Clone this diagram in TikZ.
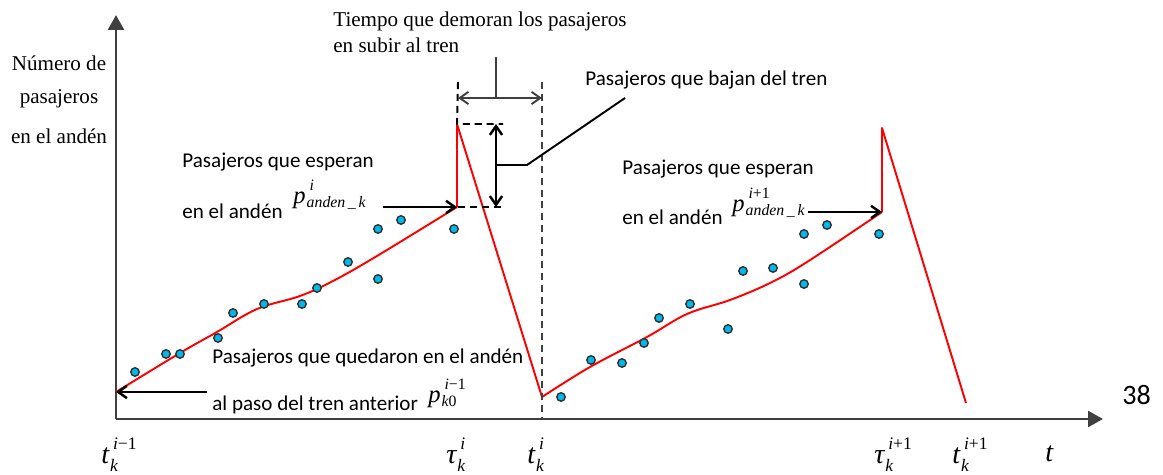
\documentclass[tikz,border=0pt]{standalone}
\usepackage{fontspec}
\setmainfont{Liberation Serif}
\newfontfamily\calib{Carlito}
\usetikzlibrary{arrows.meta}
\definecolor{axgray}{RGB}{64,64,64}
\definecolor{dotcyan}{RGB}{0,186,238}
\definecolor{dotedge}{RGB}{50,50,50}
% #1 base size, #2 script size, #3 base, #4 sup, #5 sub, #6 raise, #7 lower
\newcommand\mlb[7]{{\fontsize{#1}{#1}\selectfont\itshape #3\kern0.6pt\rlap{\kern1.6pt\raisebox{#6}{\fontsize{#2}{#2}\selectfont #4}}\raisebox{-#7}{\fontsize{#2}{#2}\selectfont #5}}}
\tikzset{
  ax/.style={draw=axgray, line width=1.6pt, -{Triangle[length=8.5pt,width=9pt]}},
  redl/.style={draw=red, line width=1.1pt, line join=round},
  dot/.style={circle, fill=dotcyan, draw=dotedge, line width=0.8pt, minimum size=4.8pt, inner sep=0pt},
  sans/.style={font=\calib\fontsize{12}{14}\selectfont, inner sep=0pt, anchor=west},
  ser/.style={font=\fontsize{12}{14}\selectfont, inner sep=0pt},
  barb/.style={line width=1.4pt, -{Straight Barb[length=5pt,width=7pt]}},
  dbarb/.style={line width=1.4pt, {Straight Barb[length=5pt,width=7pt]}-{Straight Barb[length=5pt,width=7pt]}},
  dash1/.style={line width=1.1pt, dash pattern=on 4pt off 2.8pt},
  mlab/.style={inner sep=0pt, anchor=base west}
}
\begin{document}
\begin{tikzpicture}[x=0.02cm,y=-0.02cm]
\useasboundingbox (0,0) rectangle (1163,475);
% axes
\coordinate (o) at (116,419);
\coordinate (ytop) at (116,15);
\coordinate (xend) at (1103,419);
\draw[ax] (o) -- (ytop);
\draw[ax] (o) -- (xend);
% y label
\node[ser] (yl1) at (59,63) {Número de};
\node[ser] (yl2) at (59,99) {pasajeros};
\node[ser] (yl3) at (59,136) {en el andén};
% key points
\coordinate (a0) at (116,392);
\coordinate (a1) at (457,207);
\coordinate (a2) at (457,124);
\coordinate (a3) at (542,397);
\coordinate (b1) at (882,212);
\coordinate (b2) at (882,128);
\coordinate (b3) at (966,403);
% red curves
\draw[redl] plot[smooth, tension=0.6] coordinates {(116,392) (180,353) (217,332) (257,309) (300,296) (333,281) (377,256) (457,207)};
\draw[redl] (a1) -- (a2) -- (a3);
\draw[redl] plot[smooth, tension=0.6] coordinates {(542,397) (590,367) (647,337) (687,314) (730,300) (770,283) (807,262) (882,212)};
\draw[redl] (b1) -- (b2) -- (b3);
% dots
\foreach \x/\y [count=\i] in {135/372,166/354,180/354,218/338,233/313,264/304,302/304,317/288,348/262,378/279,378/229,401/220,454/229,
561/397,591/360,622/363,644/343,659/318,690/304,728/329,743/271,773/268,804/284,804/234,827/225,879/234}
  \node[dot] (d\i) at (\x,\y) {};
% dashed guides
\coordinate (v1t) at (458,82);
\coordinate (v2t) at (542,82);
\coordinate (v2b) at (542,419);
\coordinate (h1e) at (503,124);
\coordinate (h2s) at (458,207);
\coordinate (h2e) at (503,207);
\draw[dash1, black] (v1t) -- (a2) -- (h1e);
\draw[dash1, black] (h2s) -- (h2e);
\draw[dash1, axgray] (v2t) -- (v2b);
% boarding time arrow
\coordinate (ta) at (458,98);
\coordinate (tb) at (542,98);
\coordinate (tm) at (496,98);
\coordinate (tl) at (496,57);
\draw[axgray, line width=1.1pt, {Straight Barb[length=5pt,width=7pt]}-{Straight Barb[length=5pt,width=7pt]}] (ta) -- (tb);
\draw[axgray, line width=1.1pt] (tl) -- (tm);
\node[ser, anchor=west] (tiempo1) at (333,21) {Tiempo que demoran los pasajeros};
\node[ser, anchor=west] (tiempo2) at (333,45) {en subir al tren};
% alighting arrow
\coordinate (ua) at (496,124);
\coordinate (ub) at (496,207);
\coordinate (um) at (496,165);
\coordinate (uk) at (527,165);
\coordinate (ue) at (625,98);
\draw[dbarb, black] (ua) -- (ub);
\draw[black, line width=1.1pt] (um) -- (uk) -- (ue);
\node[sans] (baj) at (585,80) {Pasajeros que bajan del tren};
% waiting i
\node[sans] (esp1) at (182,162) {Pasajeros que esperan};
\node[sans] (esp2) at (182,211) {en el andén};
\node[mlab] (p1) at (293,204) {\mlb{14}{9}{p}{i}{anden\,\_\,k}{7.5pt}{1.8pt}};
\coordinate (w1s) at (383,207);
\draw[barb, black] (w1s) -- (a1);
% waiting i+1
\node[sans] (esp3) at (622,169) {Pasajeros que esperan};
\node[sans] (esp4) at (622,217) {en el andén};
\node[mlab] (p2) at (732,212) {\mlb{14}{9}{p}{i\upshape +1}{anden\,\_\,k}{7.5pt}{1.8pt}};
\coordinate (w2s) at (808,212);
\draw[barb, black] (w2s) -- (b1);
% remaining
\node[sans] (rem1) at (212,358) {Pasajeros que quedaron en el andén};
\node[sans] (rem2) at (212,405) {al paso del tren anterior};
\node[mlab] (p3) at (428,403) {\mlb{14}{9}{p}{i\upshape −1}{k\upshape 0}{7.5pt}{1.8pt}};
\coordinate (r1s) at (207,392);
\draw[barb, black] (r1s) -- (a0);
% x labels
\node[mlab] (t1) at (101,464) {\mlb{16}{10}{t}{i\upshape −1}{k}{8.5pt}{4pt}};
\node[mlab] (t2) at (446,464) {\mlb{16}{10}{τ}{i}{k}{8.5pt}{4pt}};
\node[mlab] (t3) at (527,464) {\mlb{16}{10}{t}{i}{k}{8.5pt}{4pt}};
\node[mlab] (t4) at (874,464) {\mlb{16}{10}{τ}{i\upshape +1}{k}{8.5pt}{4pt}};
\node[mlab] (t5) at (952,464) {\mlb{16}{10}{t}{i\upshape +1}{k}{8.5pt}{4pt}};
\node[mlab, font=\fontsize{16}{18}\selectfont\itshape] (t6) at (1045,462) {t};
\node[sans, font=\calib\fontsize{16}{18}\selectfont] (pg) at (1122,395) {38};
\end{tikzpicture}
\end{document}
